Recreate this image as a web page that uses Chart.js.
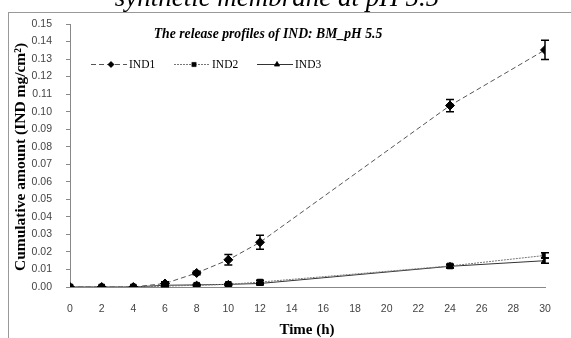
<!DOCTYPE html>
<html>
<head>
<meta charset="utf-8">
<script src="https://cdn.jsdelivr.net/npm/chart.js@4.4.1/dist/chart.umd.min.js"></script>
<style>
  body { margin: 0; background: #fff; }
  canvas { display: block; }
</style>
</head>
<body>
<canvas id="myChart" width="571" height="338"></canvas>
<script>
const hours = [0, 2, 4, 6, 8, 10, 12, 24, 30]
const ind1 = [0, 0, 0, 0.002, 0.008, 0.0155, 0.0255, 0.1035, 0.1352]
const ind1Err = [0, 0, 0, 0.001, 0.001, 0.003, 0.004, 0.0035, 0.0055]
const ind2 = [0, 0, 0, 0.0005, 0.001, 0.0015, 0.0028, 0.012, 0.018]
const ind2Err = [0, 0, 0, 0.0003, 0.0003, 0.0005, 0.001, 0.001, 0.0015]
const ind3 = [0, 0, 0, 0.001, 0.0012, 0.0015, 0.002, 0.0118, 0.015]
const ind3Err = [0, 0, 0, 0.0003, 0.0003, 0.0003, 0.0005, 0.0008, 0.0015]
const seriesNames = ['IND1', 'IND2', 'IND3']

const toPoints = (ys) => hours.map((h, i) => ({x: h, y: ys[i]}))

// error bars, legend, titles and frame drawn on the canvas
const extras = {
  id: 'extras',
  afterDatasetsDraw(chart) {
    const ctx = chart.ctx
    const xs = chart.scales.x, ys = chart.scales.y
    const errs = [ind1Err, ind2Err, ind3Err]
    ctx.save()
    ctx.strokeStyle = '#000'
    ctx.lineWidth = 1.5
    chart.data.datasets.forEach((ds, d) => {
      ds.data.forEach((p, i) => {
        const e = errs[d][i]
        if (!e) return
        const px = xs.getPixelForValue(p.x)
        const top = ys.getPixelForValue(p.y + e)
        const bot = ys.getPixelForValue(Math.max(0, p.y - e))
        ctx.beginPath()
        ctx.moveTo(px, top); ctx.lineTo(px, bot)
        ctx.moveTo(px - 4, top); ctx.lineTo(px + 4, top)
        ctx.moveTo(px - 4, bot); ctx.lineTo(px + 4, bot)
        ctx.stroke()
      })
    })
    ctx.restore()
  },
  afterDraw(chart) {
    const ctx = chart.ctx
    ctx.save()
    // frame
    ctx.strokeStyle = '#999'
    ctx.lineWidth = 1
    ctx.strokeRect(8.5, 12.5, 600, 400)
    // cut-off main title
    ctx.fillStyle = '#000'
    ctx.textAlign = 'center'
    ctx.textBaseline = 'alphabetic'
    ctx.font = 'italic 27px "Liberation Serif"'
    ctx.fillText('synthetic membrane at pH 5.5', 277, 6)
    // inner title
    ctx.font = 'bold italic 13.7px "Liberation Serif"'
    ctx.textBaseline = 'middle'
    ctx.fillText('The release profiles of IND: BM_pH 5.5', 268, 34)
    // axis titles
    ctx.font = 'bold 15px "Liberation Serif"'
    ctx.fillText('Time (h)', 307, 330)
    ctx.save()
    ctx.translate(21, 157)
    ctx.rotate(-Math.PI / 2)
    ctx.font = 'bold 15.5px "Liberation Serif"'
    ctx.fillText('Cumulative amount (IND mg/cm²)', 0, 0)
    ctx.restore()
    // legend
    ctx.font = '11.5px "Liberation Serif"'
    ctx.textAlign = 'left'
    const ly = 64
    chart.data.datasets.forEach((ds, d) => {
      const x0 = 91 + d * 83
      ctx.strokeStyle = ds.borderColor
      ctx.lineWidth = 1
      ctx.setLineDash(ds.borderDash || [])
      ctx.beginPath()
      ctx.moveTo(x0, ly + 0.5); ctx.lineTo(x0 + 36, ly + 0.5)
      ctx.stroke()
      ctx.setLineDash([])
      Chart.helpers.drawPoint(ctx, {pointStyle: ds.pointStyle, radius: 3, borderWidth: 1}, x0 + 20, ly + 0.5)
      ctx.fillStyle = '#000'
      ctx.fill()
      ctx.fillText(seriesNames[d], x0 + 38, ly + 1)
    })
    ctx.restore()
  }
}

const tickFont = {family: '"Liberation Sans"', size: 10.5}

new Chart(document.getElementById('myChart'), {
  type: 'line',
  data: {
    datasets: [
      {label: seriesNames[0], data: toPoints(ind1), borderColor: '#555', borderDash: [5, 3],
       pointStyle: 'rectRot', pointRadius: 4.5, borderWidth: 1},
      {label: seriesNames[1], data: toPoints(ind2), borderColor: '#777', borderDash: [2, 1],
       pointStyle: 'rect', pointRadius: 4, borderWidth: 1},
      {label: seriesNames[2], data: toPoints(ind3), borderColor: '#333',
       pointStyle: 'triangle', pointRadius: 4, borderWidth: 1}
    ].map(ds => Object.assign(ds, {pointBackgroundColor: '#000', pointBorderColor: '#000', fill: false, tension: 0}))
  },
  options: {
    responsive: false,
    animation: false,
    events: [],
    layout: {padding: {left: 8, top: 24, right: 26, bottom: 0}},
    plugins: {legend: {display: false}, tooltip: {enabled: false}},
    scales: {
      x: {
        type: 'linear', min: 0, max: 30,
        grid: {display: false, drawOnChartArea: false, tickLength: 5, color: '#888'},
        border: {color: '#888'},
        ticks: {stepSize: 2, font: tickFont, color: '#444', padding: 11, maxRotation: 0, autoSkip: false},
        afterFit: (s) => { s.height = 51 }
      },
      y: {
        min: 0, max: 0.15,
        grid: {display: true, drawOnChartArea: false, tickLength: 4, color: '#888'},
        border: {color: '#888'},
        ticks: {stepSize: 0.01, font: tickFont, color: '#444', padding: 14,
                callback: (v) => v.toFixed(2)},
        afterFit: (s) => { s.width = 62 }
      }
    }
  },
  plugins: [extras]
})
</script>
</body>
</html>
